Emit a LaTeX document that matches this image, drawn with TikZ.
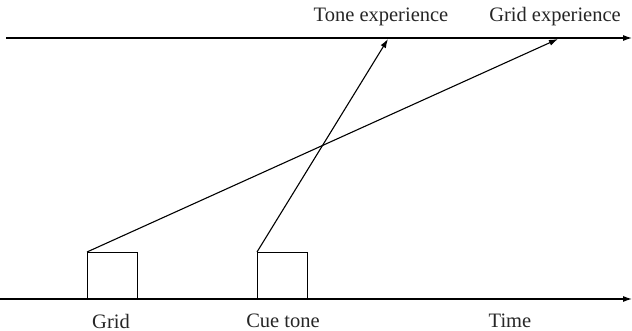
\documentclass[tikz,border=0pt]{standalone}
\usepackage{fontspec}
\setmainfont{Liberation Serif}
\usetikzlibrary{arrows.meta,positioning}

\begin{document}
\begin{tikzpicture}[x=1pt,y=1pt,>={Latex[length=9pt,width=6pt]},line width=1.1pt,
  every node/.style={font=\fontsize{20.5}{24}\selectfont,text=black!85},
  event/.style={draw,minimum width=50pt,minimum height=46pt,inner sep=0pt,anchor=south west,line width=1pt}]
  \useasboundingbox (0,0) rectangle (632,331);
  % time axes
  \coordinate (top0) at (6,293); \coordinate (top1) at (632,293);
  \coordinate (bot0) at (0,32); \coordinate (bot1) at (632,32);
  \draw[->] (top0) -- (top1);
  \draw[->] (bot0) -- (bot1);
  % stimuli
  \node[event] (grid) at (87,32) {};
  \node[event] (cue) at (257,32) {};
  \coordinate (toneexp) at (388,292); \coordinate (gridexp) at (558,292);
  \draw[->] (grid.north west) -- (gridexp);
  \draw[->] (cue.north west) -- (toneexp);
  % labels
  \node (tonelbl) at (381,314) {Tone experience};
  \node (gridlbl) at (555,314) {Grid experience};
  \node (gridname) at (111,10) {Grid};
  \node (cuename) at (283,10) {Cue tone};
  \node (timename) at (510,10) {Time};
\end{tikzpicture}
\end{document}
